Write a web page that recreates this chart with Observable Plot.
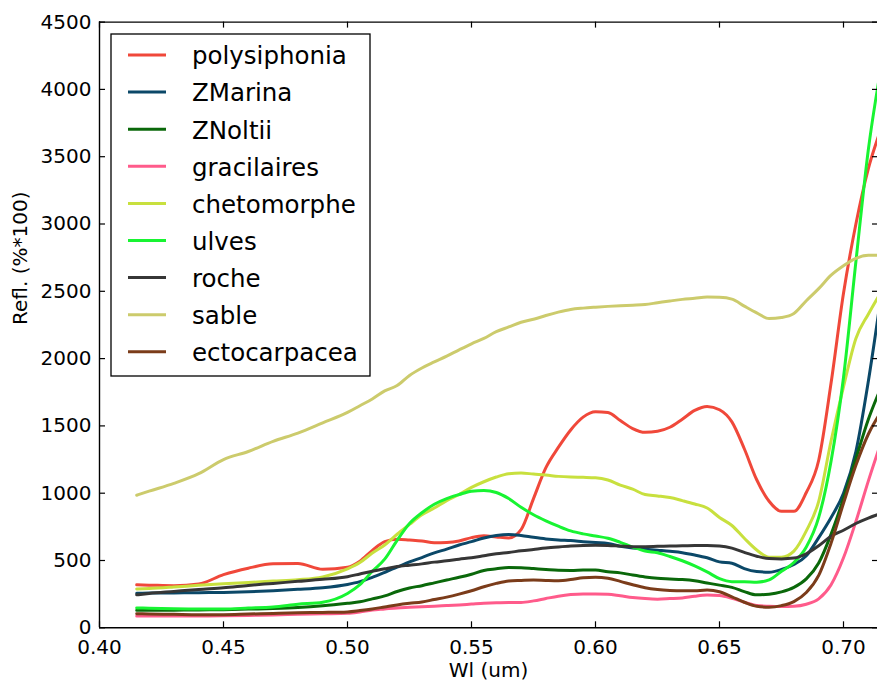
<!DOCTYPE html>
<html>
<head>
<meta charset="utf-8">
<script src="https://cdn.jsdelivr.net/npm/d3@7"></script>
<script src="https://cdn.jsdelivr.net/npm/@observablehq/plot@0.6"></script>
<style>
html, body { margin: 0; padding: 0; background: #fff; overflow: hidden; }
#wrap { position: relative; width: 877px; height: 682px; font-family: "DejaVu Sans", sans-serif; }
</style>
</head>
<body>
<div id="wrap"></div>
<script>
// Wavelengths (um)
const wl = [0.415, 0.42, 0.43, 0.44, 0.45, 0.46, 0.47, 0.48, 0.49, 0.50,
  0.505, 0.51, 0.515, 0.52, 0.525, 0.53, 0.535, 0.54, 0.545, 0.55,
  0.555, 0.56, 0.565, 0.57, 0.575, 0.58, 0.585, 0.59, 0.595, 0.60,
  0.605, 0.61, 0.615, 0.62, 0.625, 0.63, 0.635, 0.64, 0.645, 0.65,
  0.655, 0.66, 0.665, 0.67, 0.675, 0.68, 0.685, 0.69, 0.695, 0.70,
  0.705, 0.71, 0.715];

const polysiphonia = [319,317,313,325,395,443,475,478,435,450,
  495,575,640,658,652,645,632,634,645,670,
  683,675,668,730,960,1190,1340,1470,1565,1605,
  1600,1540,1480,1452,1460,1490,1550,1615,1645,1620,
  1530,1330,1100,940,865,865,1005,1245,1820,2485,
  3000,3410,3700];
const zmarina = [257,258,259,261,263,268,276,286,298,322,
  343,375,412,450,490,522,557,585,615,640,
  667,686,694,686,672,660,652,648,640,633,
  627,605,592,584,576,568,558,541,520,490,
  480,440,418,413,433,470,535,670,820,1000,
  1310,1830,2450];
const znoltii = [130,130,131,133,135,139,143,150,163,182,
  193,215,237,270,296,313,334,355,375,398,
  426,438,448,447,440,433,427,426,429,430,
  416,408,392,378,368,363,358,349,333,317,
  300,269,245,250,267,300,363,481,696,961,
  1256,1548,1780];
const gracilaires = [88,88,88,88,89,92,95,100,104,108,
  118,132,140,148,152,156,160,165,170,176,
  182,186,188,188,200,218,235,247,252,252,
  250,238,225,217,213,217,222,235,243,240,
  220,190,165,160,158,160,175,215,320,520,
  790,1090,1370];
const chetomorphe = [289,292,303,316,327,337,347,357,378,438,
  485,555,615,695,768,840,890,945,990,1043,
  1085,1120,1145,1150,1142,1135,1125,1120,1118,1115,
  1098,1060,1030,990,980,968,945,920,890,820,
  760,665,578,525,525,570,720,940,1390,1790,
  2150,2330,2490];
const ulves = [148,146,142,140,140,147,155,175,190,255,
  320,420,510,650,775,855,918,960,990,1015,
  1020,1005,960,895,840,795,755,720,698,682,
  665,635,600,570,558,530,498,460,415,365,
  343,343,339,356,420,485,600,820,1240,1860,
  2720,3550,4150];
const roche = [245,255,270,285,298,315,330,345,360,380,
  400,420,438,455,465,475,488,498,510,520,
  535,550,560,572,582,592,600,607,612,614,
  612,607,603,603,605,607,609,611,612,608,
  592,560,532,514,512,518,550,610,680,725,
  775,815,848];
const sable = [985,1015,1073,1145,1250,1310,1385,1447,1523,1600,
  1650,1700,1760,1800,1875,1930,1975,2018,2065,2110,
  2150,2200,2235,2270,2292,2320,2345,2365,2375,2382,
  2388,2393,2397,2402,2415,2428,2440,2448,2457,2455,
  2442,2390,2340,2297,2305,2335,2430,2520,2620,2690,
  2745,2767,2768];
const ectocarpacea = [105,103,100,97,97,102,107,112,114,118,
  128,140,155,170,182,192,210,228,250,275,
  305,330,348,352,355,352,350,358,372,376,
  368,345,320,298,285,278,275,276,280,268,
  230,190,160,153,165,195,262,390,630,925,
  1207,1438,1600];

const names = ["polysiphonia", "ZMarina", "ZNoltii", "gracilaires", "chetomorphe",
  "ulves", "roche", "sable", "ectocarpacea"];
const colors = ["#f0483a", "#0b4868", "#0a680a", "#ff5b8b", "#c8e03e",
  "#18f432", "#363636", "#cccb6c", "#7b3c1a"];
const valuesList = [polysiphonia, zmarina, znoltii, gracilaires, chetomorphe,
  ulves, roche, sable, ectocarpacea];

const xTicks = [0.40, 0.45, 0.50, 0.55, 0.60, 0.65, 0.70];
const yTicks = [0, 500, 1000, 1500, 2000, 2500, 3000, 3500, 4000, 4500];

const rows = names.flatMap((n, k) => wl.map((w, i) => ({wl: w, refl: valuesList[k][i], name: n})));

const width = 877, height = 682;
const mL = 99, mR = 0, mT = 21.6, mB = 54.7;
const pw = width - mL - mR, ph = height - mT - mB;
const pxPerUnit = 2480;

const chart = Plot.plot({
  width, height,
  marginLeft: mL, marginRight: mR, marginTop: mT, marginBottom: mB,
  style: {fontFamily: "DejaVu Sans", fontSize: "20px", color: "#000", background: "#fff"},
  x: {domain: [0.40, 0.40 + pw / pxPerUnit]},
  y: {domain: [0, 4500]},
  color: {domain: names, range: colors},
  marks: [
    Plot.line(rows, {x: "wl", y: "refl", z: "name", stroke: "name", strokeWidth: 3,
      curve: "monotone-x", clip: true, strokeLinejoin: "round"}),
    Plot.tickX(xTicks, {x: d => d, insetTop: ph - 6, stroke: "#000", strokeWidth: 1.2}),
    Plot.tickX(xTicks, {x: d => d, insetBottom: ph - 6, stroke: "#000", strokeWidth: 1.2}),
    Plot.tickY(yTicks, {y: d => d, insetRight: pw - 6, stroke: "#000", strokeWidth: 1.2}),
    Plot.tickY(yTicks, {y: d => d, insetLeft: pw - 5, stroke: "#000", strokeWidth: 1.2}),
    Plot.ruleX([0.40], {stroke: "#000", strokeWidth: 1.4}),
    Plot.ruleY([0, 4500], {stroke: "#000", strokeWidth: 1.4}),
    Plot.axisX({ticks: xTicks, tickSize: 0, tickPadding: 12, tickFormat: d3.format(".2f"),
      label: null, fontSize: 20}),
    Plot.axisY({ticks: yTicks, tickSize: 0, tickPadding: 8, tickFormat: d3.format("d"),
      label: null, fontSize: 20}),
    Plot.text(["Wl (um)"], {frameAnchor: "bottom", lineAnchor: "middle", dy: 43,
      fontSize: 20, text: d => d, fill: "#000"}),
    Plot.text(["Refl. (%*100)"], {frameAnchor: "left", lineAnchor: "middle", dx: -79,
      rotate: -90, fontSize: 20, text: d => d, fill: "#000"})
  ]
});

const wrap = document.getElementById("wrap");
wrap.appendChild(chart);

// Legend overlay (matplotlib-style boxed legend, upper left)
const lg = d3.select(wrap).append("svg")
  .attr("width", 262).attr("height", 345)
  .style("position", "absolute").style("left", "110px").style("top", "33px");
lg.append("rect").attr("x", 1).attr("y", 1).attr("width", 259).attr("height", 342)
  .attr("fill", "#fff").attr("stroke", "#000").attr("stroke-width", 1.3);
names.forEach((n, i) => {
  const cy = 22 + i * 37.1;
  lg.append("line").attr("x1", 18).attr("x2", 56).attr("y1", cy).attr("y2", cy)
    .attr("stroke", colors[i]).attr("stroke-width", 3);
  lg.append("text").attr("x", 82).attr("y", cy).attr("dy", "0.38em")
    .attr("font-family", "DejaVu Sans").attr("font-size", "24.5px").attr("fill", "#000")
    .text(n);
});
</script>
</body>
</html>
